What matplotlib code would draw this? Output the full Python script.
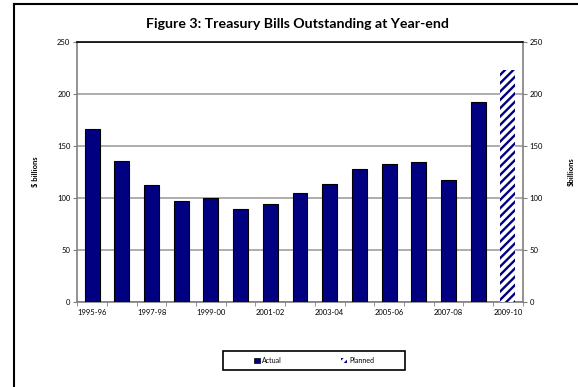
import matplotlib
matplotlib.use("Agg")
import matplotlib.pyplot as plt
from matplotlib.patches import Patch, Rectangle
from matplotlib.lines import Line2D
import numpy as np

years = ["1995-96", "1996-97", "1997-98", "1998-99", "1999-00", "2000-01", "2001-02",
         "2002-03", "2003-04", "2004-05", "2005-06", "2006-07", "2007-08", "2008-09", "2009-10"]
actual = [166.4, 135.9, 112.5, 97.3, 100.2, 89.0, 94.5, 105.0, 113.7, 127.6, 132.4, 134.6, 117.3, 192.7, None]
planned = [None] * 14 + [223.3]
yticks = [0, 50, 100, 150, 200, 250]

plt.rcParams['font.family'] = ['Lato', 'DejaVu Sans']
plt.rcParams['hatch.color'] = '#000080'
plt.rcParams['hatch.linewidth'] = 1.7

W, H = 578, 387
fig = plt.figure(figsize=(W / 100, H / 100), dpi=100)
ax = fig.add_axes([77.3 / W, 1 - 301.7 / H, (522.7 - 77.3) / W, (301.7 - 42.3) / H])

x = np.arange(len(years))
act_x = [i for i, v in enumerate(actual) if v is not None]
act_v = [v for v in actual if v is not None]
pl_x = [i for i, v in enumerate(planned) if v is not None]
pl_v = [v for v in planned if v is not None]

ax.bar(act_x, act_v, width=0.5, color='#000080', edgecolor='black', linewidth=0.8, zorder=3)
ax.bar(pl_x, pl_v, width=0.5, color='white', edgecolor='#000080', hatch='////', linewidth=0, zorder=3)

ax.set_xlim(-0.5, len(years) - 0.5)
ax.set_ylim(0, 250)
ax.set_yticks(yticks)
ax.set_yticklabels([str(t) for t in yticks], fontsize=5.5)
ax.yaxis.grid(True, color='#a0a0a0', linewidth=1.2, zorder=0)
ax.set_axisbelow(True)

ax.set_xticks(x[::2])
ax.set_xticklabels(years[::2], fontsize=5.5)
ax.set_xticks(np.arange(-0.5, len(years), 1), minor=True)
ax.tick_params(axis='x', which='major', length=0, pad=5)
ax.tick_params(axis='x', which='minor', length=3, color='#808080', direction='out')
ax.tick_params(axis='y', length=3, color='#808080', pad=2, labelsize=5.5)

for s in ['left', 'right', 'bottom']:
    ax.spines[s].set_color('#808080')
    ax.spines[s].set_linewidth(1.2)
ax.spines['top'].set_color('black')
ax.spines['top'].set_linewidth(1.2)

ax2 = ax.twinx()
ax2.set_ylim(0, 250)
ax2.set_yticks(yticks)
ax2.set_yticklabels([str(t) for t in yticks], fontsize=5.5)
ax2.tick_params(axis='y', length=3, color='#808080', pad=2, labelsize=5.5)
for s in ax2.spines.values():
    s.set_visible(False)

fig.text(35 / W, 1 - 172 / H, "$ billions", rotation=90, fontsize=5.5, fontweight='bold',
         ha='center', va='center')
fig.text(571 / W, 1 - 172 / H, "$billions", rotation=90, fontsize=5.5, fontweight='bold',
         ha='center', va='center')

fig.text(297 / W, 1 - 24 / H, "Figure 3: Treasury Bills Outstanding at Year-end",
         fontsize=10.2, fontweight='bold', ha='center', va='center')

# outer chart border (left and top visible)
fig.add_artist(Line2D([13.5 / W, 13.5 / W], [0, 1 - 3.5 / H], transform=fig.transFigure,
                      color='black', linewidth=1.5))
fig.add_artist(Line2D([13.5 / W, 1], [1 - 3.5 / H, 1 - 3.5 / H], transform=fig.transFigure,
                      color='black', linewidth=1.5))

# legend box
fig.add_artist(Rectangle((223 / W, 1 - 370 / H), 182 / W, 19 / H, transform=fig.transFigure,
                         facecolor='white', edgecolor='black', linewidth=1.2))
handles = [Patch(facecolor='#000080', edgecolor='black', linewidth=0.5, label='Actual'),
           Patch(facecolor='white', edgecolor='#000080', hatch='////', linewidth=0, label='Planned')]
leg = fig.legend(handles=handles, loc='center', bbox_to_anchor=(314 / W, 1 - 360.5 / H),
                 ncol=2, fontsize=5, frameon=False,
                 handlelength=0.8, handleheight=0.8, handletextpad=0.3, columnspacing=8.6,
                 borderpad=0.5, borderaxespad=0)

fig.savefig("out.png", dpi=100)
